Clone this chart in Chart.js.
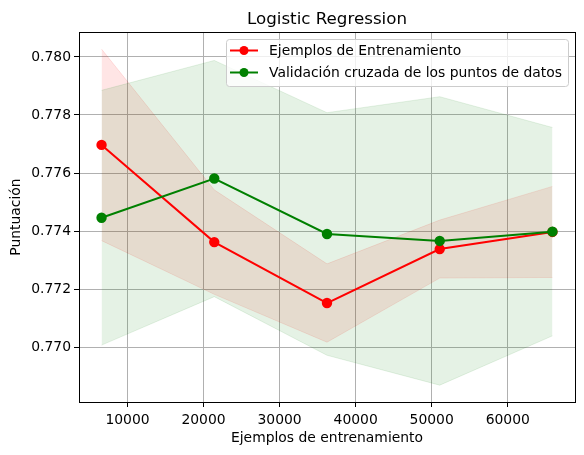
<!DOCTYPE html>
<html>
<head>
<meta charset="utf-8">
<script src="https://cdn.jsdelivr.net/npm/chart.js@4/dist/chart.umd.min.js"></script>
<style>
  html, body { margin: 0; padding: 0; background: #fff; }
  #wrap { width: 584px; height: 455px; }
</style>
</head>
<body>
<div id="wrap"><canvas id="lc"></canvas></div>
<script>
// curva de aprendizaje
var trainSizes = [6588, 21411, 36234, 51057, 65880];
var trainMean = [0.77697, 0.77362, 0.77152, 0.77338, 0.77397];
var trainStd = [0.0033, 0.0018, 0.00135, 0.0010, 0.00157];
var valMean = [0.77446, 0.77581, 0.77390, 0.77366, 0.77398];
var valStd = [0.00439, 0.00407, 0.00418, 0.00497, 0.00359];
var yTicks = [0.770, 0.772, 0.774, 0.776, 0.778, 0.780];
var xTicks = [10000, 20000, 30000, 40000, 50000, 60000];

var FONT = "'DejaVu Sans', sans-serif";

function pts(ys, off, sign) {
  return trainSizes.map(function (x, i) {
    return { x: x, y: ys[i] + (off ? sign * off[i] : 0) };
  });
}

// marco, titulo y leyenda estilo matplotlib
var frame = {
  id: "frame",
  afterDraw: function (chart) {
    var c = chart.ctx, a = chart.chartArea;
    c.save();
    c.strokeStyle = "#000";
    c.lineWidth = 1;
    c.strokeRect(Math.round(a.left) + 0.5, Math.round(a.top) + 0.5,
      Math.round(a.right - a.left), Math.round(a.bottom - a.top));

    c.fillStyle = "#000";
    c.font = "16.7px " + FONT;
    c.textAlign = "center";
    c.textBaseline = "middle";
    c.fillText("Logistic Regression", (a.left + a.right) / 2, 19.5);

    var items = [
      { label: "Ejemplos de Entrenamiento", color: "#ff0000" },
      { label: "Validación cruzada de los puntos de datos", color: "#008000" }
    ];
    var bx = a.right - 349, by = a.top + 7, bw = 342, bh = 47;
    c.beginPath();
    c.roundRect(bx + 0.5, by + 0.5, bw, bh, 3);
    c.fillStyle = "rgba(255,255,255,0.8)";
    c.fill();
    c.strokeStyle = "#cccccc";
    c.stroke();
    c.font = "13.9px " + FONT;
    c.textAlign = "left";
    items.forEach(function (it, i) {
      var yy = by + 11.5 + i * 22;
      c.strokeStyle = it.color;
      c.lineWidth = 2;
      c.beginPath();
      c.moveTo(bx + 4, yy);
      c.lineTo(bx + 32, yy);
      c.stroke();
      c.fillStyle = it.color;
      c.beginPath();
      c.arc(bx + 18, yy, 4.5, 0, Math.PI * 2);
      c.fill();
      c.fillStyle = "#000";
      c.fillText(it.label, bx + 43, yy + 1);
    });
    c.restore();
  }
};

function keepTicks(list) {
  return function (scale) {
    scale.ticks = list.map(function (v) { return { value: v }; });
  };
}

new Chart(document.getElementById("lc"), {
  type: "line",
  data: {
    datasets: [
      {
        data: pts(valMean, null, 0), borderColor: "#008000", backgroundColor: "#008000",
        borderWidth: 2, pointRadius: 4.2, pointHoverRadius: 4.2, fill: false, order: 0
      },
      {
        data: pts(trainMean, null, 0), borderColor: "#ff0000", backgroundColor: "#ff0000",
        borderWidth: 2, pointRadius: 4.2, pointHoverRadius: 4.2, fill: false, order: 1
      },
      {
        data: pts(valMean, valStd, 1), borderColor: "rgba(0,128,0,0.1)",
        borderWidth: 1, pointRadius: 0, fill: false, order: 2
      },
      {
        data: pts(valMean, valStd, -1), borderColor: "rgba(0,128,0,0.1)",
        backgroundColor: "rgba(0,128,0,0.1)", borderWidth: 1, pointRadius: 0,
        fill: 2, order: 3
      },
      {
        data: pts(trainMean, trainStd, 1), borderColor: "rgba(255,0,0,0.1)",
        borderWidth: 1, pointRadius: 0, fill: false, order: 4
      },
      {
        data: pts(trainMean, trainStd, -1), borderColor: "rgba(255,0,0,0.1)",
        backgroundColor: "rgba(255,0,0,0.1)", borderWidth: 1, pointRadius: 0,
        fill: 4, order: 5
      }
    ]
  },
  options: {
    responsive: true,
    maintainAspectRatio: false,
    animation: false,
    layout: { padding: { left: 0, right: 9, top: 32, bottom: 0 } },
    elements: { line: { tension: 0 } },
    plugins: {
      legend: { display: false },
      tooltip: { enabled: false },
      title: { display: false }
    },
    scales: {
      x: {
        type: "linear",
        min: 3623,
        max: 68845,
        afterBuildTicks: keepTicks(xTicks),
        afterFit: function (s) { s.height = 53; },
        grid: { color: "#b0b0b0", tickColor: "#000", tickLength: 5, lineWidth: 1 },
        border: { display: false },
        ticks: {
          color: "#000", padding: 5,
          font: { family: FONT, size: 13.9 },
          callback: function (v) { return String(v); }
        },
        title: {
          display: true, text: "Ejemplos de entrenamiento", color: "#000",
          font: { family: FONT, size: 13.9 }, padding: { top: 0, bottom: 8 }
        }
      },
      y: {
        min: 0.76811,
        max: 0.78086,
        afterBuildTicks: keepTicks(yTicks),
        afterFit: function (s) { s.width = 79; },
        grid: { color: "#b0b0b0", tickColor: "#000", tickLength: 5, lineWidth: 1 },
        border: { display: false },
        ticks: {
          color: "#000", padding: 3,
          font: { family: FONT, size: 13.9 },
          callback: function (v) { return v.toFixed(3); }
        },
        title: {
          display: true, text: "Puntuación", color: "#000",
          font: { family: FONT, size: 13.9 }, padding: { top: 8, bottom: 4 }
        }
      }
    }
  },
  plugins: [frame]
});
</script>
</body>
</html>
